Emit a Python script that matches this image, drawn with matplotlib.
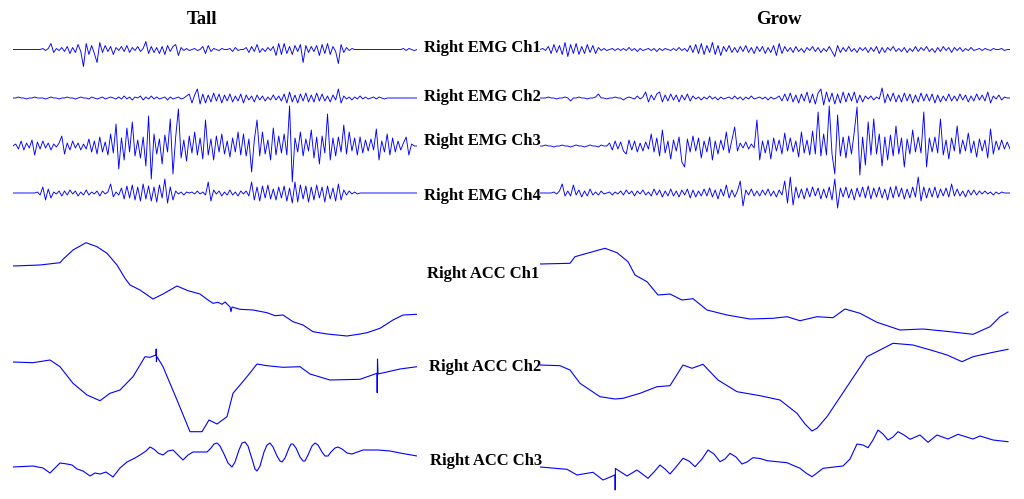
import numpy as np
import matplotlib
matplotlib.use("Agg")
import matplotlib.pyplot as plt

# EMG samples (amplitude, up = positive), Tall trial: 150 samples over the trace
tall_emg1 = [0, 0, 0, 0, 0, 0, 0, 0, 0, 0,
             0, 1, -1, 1, 6, -3, 1, -1, 2, -2,
             3, -4, 2, -3, 5, -2, -17, 6, -5, 4,
             -4, -13, 7, -3, 4, -2, 3, -5, 2, -1,
             3, -2, 4, -3, 2, -1, 3, -2, 1, 8,
             -4, 3, -3, 2, -4, 3, -5, 4, -2, 3,
             5, -6, 2, -1, 1, -1, 0, 1, -1, 0,
             3, -4, 4, -2, 1, 0, -1, 1, 0, 0,
             1, -2, 2, -1, 0, 0, 2, -3, 3, -2,
             5, -3, 1, -2, 2, -1, 3, -6, 6, -5,
             6, -4, 3, -5, 4, -2, 5, -13, 4, -3,
             3, -2, 4, -6, 5, -4, 6, -5, 3, -2,
             -14, 5, -3, 2, -1, 1, 0, 0, 0, 0,
             0, 0, 0, 0, 0, 0, 0, 0, 0, 0,
             0, 0, 0, 0, 1, -1, 1, 0, -1, 0]
tall_emg2 = [0, 0, 1, 0, 0, -1, 0, 0, 1, 0,
             0, 0, -1, 0, 1, 0, 0, -1, 0, 0,
             1, 0, 0, -1, 0, 1, 0, 0, -1, 1,
             0, -1, 0, 1, -1, 0, 1, 0, -1, 1,
             -1, 2, -1, 1, -2, 1, 0, 2, -2, 1,
             -1, 2, -1, 1, -1, 0, 1, -2, 1, -1,
             0, 1, -1, 0, 2, 4, -5, 3, 9, -6,
             4, -5, 3, -4, 5, -3, 4, -5, 3, -3,
             4, -4, 2, -3, 4, -5, 3, -2, 2, -4,
             3, -2, 2, -3, 1, -2, 3, -2, 2, -3,
             4, -5, 6, -4, 3, -5, 4, -3, 5, -4,
             3, -4, 5, -3, 4, -3, 2, -4, 3, -2,
             9, -5, 2, -1, 1, -2, 1, -1, 2, -1,
             1, -1, 0, 1, -1, 1, 0, -1, 0, 0,
             0, 0, 0, 0, 0, 0, 0, 0, 0, 0]
tall_emg3 = [0, 2, -3, 5, -4, 3, -2, 6, -9, 4,
             -3, 5, -2, 3, -4, 2, -1, 3, 10, -8,
             3, -4, 5, -2, 3, -4, 2, -3, 7, -6,
             5, -8, 9, -6, 4, -9, 12, -7, 22, -23,
             8, -14, 18, -6, 24, -10, 6, -12, 9, -20,
             30, -33, 12, -8, 7, -18, 11, -6, 27, -28,
             9, 37, -12, 6, -15, 10, -7, 14, -9, 8,
             -13, 26, -9, 7, -14, 10, -6, 12, -8, 5,
             -11, 8, -6, 14, -9, 12, -10, 7, -26, 6,
             26, -10, 14, -8, 6, -14, 18, -9, 10, -7,
             12, -9, 40, -36, 8, -6, 14, -10, 7, -5,
             16, -12, 9, -18, 10, -7, 32, -14, 8, -10,
             9, -6, 21, -8, 14, -5, 8, -9, 9, -7,
             6, -5, 7, -4, 17, -14, 5, -6, 12, -9,
             8, -6, 5, -4, 3, 9, -9, 2, 0, 0]
tall_emg4 = [0, 0, 0, 0, 0, 0, 0, 0, 0, 1,
             -2, 6, -7, 4, -5, 1, -1, 2, -3, 2,
             -2, 3, -1, 2, -3, 1, -2, 3, -2, 1,
             -1, 2, -3, 2, -1, 1, 9, -4, 1, -2,
             5, -6, 7, -5, 8, -7, 6, -8, 9, -6,
             7, -8, 6, -9, 8, -5, 14, -10, 6, -7,
             2, -1, 1, -2, 1, 0, 1, -1, 2, -1,
             1, -2, 11, -8, 3, -1, 2, -3, 1, -2,
             3, -2, 1, -3, 2, -1, 2, -3, 11, -7,
             6, -8, 7, -5, 8, -6, 4, -7, 6, -5,
             7, -8, 5, -10, 11, -9, 8, -6, 7, -9,
             6, -7, 8, -5, 6, -9, 7, -6, 5, -8,
             9, -7, 3, -2, 2, -1, 1, -1, 0, 0,
             0, 0, 0, 0, 0, 0, 0, 0, 0, 0,
             0, 0, 0, 0, 0, 0, 0, 0, 0, 0]

# EMG samples, Grow trial: 170 samples over the trace
grow_emg1 = [0, 1, -1, 3, -4, 5, -3, 4, -5, 7,
             -7, 5, -4, 6, -5, 3, -4, 5, -3, 4,
             -4, 2, -1, 1, -1, 0, 1, -1, 1, -1,
             1, -1, 2, -1, 1, -2, 1, -1, 0, 1,
             -1, 1, -2, 1, -1, 1, 0, -1, 1, -1,
             2, -1, 1, -2, 4, -3, 5, -4, 6, -5,
             4, -3, 7, -5, 4, -6, 3, -2, 4, -3,
             2, -3, 3, -2, 4, -3, 2, -4, 3, -2,
             3, -4, 2, -3, 4, -6, 6, -4, 3, -2,
             2, -3, 3, -2, 1, -3, 2, -1, 3, -2,
             2, -3, 1, -2, 3, -2, -7, 4, -3, 2,
             -2, 3, -2, 1, -3, 2, -1, 2, -3, 2,
             -2, 3, -4, 2, -3, 2, -1, 3, -2, 1,
             -2, 2, -3, 1, -2, 3, -2, 2, -1, 3,
             -2, 1, -3, 2, -2, 3, -1, 2, -3, 2,
             -1, 2, -2, 1, -1, 2, -1, 0, 1, -1,
             1, 0, -1, 1, 0, 0, 1, -1, 0, 0]
grow_emg2 = [0, 0, 0, 1, 0, 0, -1, 0, 0, 1,
             0, -3, 0, 0, 1, 0, 0, -1, 0, 0,
             1, 4, 0, 0, -1, 0, 0, 1, 0, 0,
             -2, 0, 1, 0, -1, 2, -1, 1, 6, -4,
             3, -2, 4, 6, -4, 3, -3, 4, -2, 3,
             -4, 3, -2, 4, -3, 2, -1, 1, -2, 1,
             -1, 2, -1, 1, -2, 1, -1, 0, 1, -1,
             2, -1, 1, -2, 1, -1, 2, -1, 0, 1,
             -1, 1, -2, 1, -1, 0, 2, -3, 4, -3,
             5, -4, 3, -5, 4, -3, 6, -5, 4, -6,
             5, 9, -7, 6, -4, 5, -6, 4, -5, 6,
             -4, 5, -3, 6, -5, 3, -4, 2, -1, 2,
             -2, 1, -1, 10, -5, 4, -3, 5, -4, 3,
             -4, 5, -3, 4, -5, 3, -4, 5, -3, 4,
             -3, 4, -5, 3, -4, 2, -3, 4, -3, 2,
             -3, 4, -2, 3, -4, 2, -3, 4, -2, 3,
             -3, 6, -5, 2, -1, 3, -2, 1, 0, 0]
grow_emg3 = [0, 0, 1, 0, 0, -1, 0, 0, 1, 0,
             0, -1, 0, 1, 0, 0, -1, 0, 1, 0,
             0, -1, 1, 0, 0, 3, -4, 5, -3, 4,
             -5, -8, 6, -4, 5, -6, 3, -5, 4, -3,
             12, -6, 8, -10, 16, -7, 5, -13, 6, -5,
             9, -16, -21, 7, -6, 10, -5, 8, -12, 5,
             -6, 9, -14, 5, -8, 6, -4, 14, -7, 6,
             19, -5, 3, -2, 4, -3, 2, -2, 26, -14,
             5, -7, 6, -13, 8, -5, 6, -8, 13, -5,
             8, -6, 5, -11, 14, -7, 6, -9, 15, -8,
             34, -10, 12, -9, 40, -8, -28, 31, -10, 9,
             -12, 10, -8, 14, 39, -29, 9, -19, 24, -9,
             27, -8, 12, -20, 9, -14, 11, -10, 20, -8,
             8, -21, 7, -8, 16, -6, 9, -7, 34, -21,
             8, -6, 9, -7, 27, -9, 6, -13, 8, -5,
             20, -8, 6, -5, 13, -7, 5, -11, 7, -5,
             6, -12, 17, -8, 5, -4, 6, -3, 4, -3]
grow_emg4 = [0, 0, 0, 0, 0, 1, -1, 2, 9, -3,
             2, -3, 8, -2, 3, -4, 2, -3, 4, -2,
             1, -2, 2, -1, 0, 1, -2, 1, -1, 2,
             -2, 3, -1, 2, -3, 2, -1, 3, -2, 1,
             -3, 4, -2, 3, -4, 2, -3, 4, -3, 2,
             -4, 3, -2, 4, -5, 3, -4, 2, -3, 4,
             -3, 5, -4, 3, -6, 4, -3, 8, -5, 3,
             -4, 2, 12, -13, 3, -2, 4, -3, 2, -3,
             3, -2, 4, -3, 2, -4, 3, -2, 12, -10,
             16, -12, 6, -5, 4, -6, 5, -4, 6, -3,
             5, -6, 4, -5, 6, -7, 14, -15, 5, -4,
             6, -5, 4, -7, 5, -4, 6, -5, 7, -6,
             5, -4, 6, -5, 4, -7, 6, -5, 7, -4,
             5, -6, 4, -5, 6, -4, 16, -8, 6, -5,
             5, -4, 6, -5, 4, -3, 5, -4, 9, -3,
             4, -3, 2, -4, 3, -2, 3, -2, 2, -1,
             2, -1, 1, -2, 1, -1, 1, 0, 0, 0]

# ACC samples: time (sample position) and value (up = positive)
tall_acc1_t = [0, 27, 47, 50, 60, 73, 84, 94, 104, 112, 117, 127, 140, 150, 164,
               175, 187, 195, 200, 205, 209, 212, 217, 218, 219, 227, 240, 254,
               262, 270, 280, 290, 300, 314, 334, 347, 354, 367, 380, 390, 404]
tall_acc1_v = [0, 1, 3.3, 6.7, 16, 23.3, 19.3, 12.7, 1, -12.3, -19, -24, -33, -28,
               -20, -24.7, -28, -34, -37.3, -36.3, -38.3, -36, -41, -45.7, -41,
               -43.3, -44, -46.7, -49.7, -49, -55.7, -59, -65.7, -68, -70, -68,
               -66.7, -62.3, -54, -49, -48.3]
tall_acc2_t = [0, 20, 37, 47, 60, 74, 87, 97, 107, 120, 132, 137, 143, 143.2,
               143.4, 144, 150, 164, 177, 189, 196, 204, 214, 220, 234, 244, 254,
               270, 287, 297, 317, 347, 364, 364.2, 364.5, 365, 387, 404]
tall_acc2_v = [0, -0.7, 2, -4.7, -21.3, -33, -38.7, -31.3, -28, -14.7, 5.3, 4.7,
               7, 13, 0.3, 5.3, -4.7, -38, -69.7, -69.7, -58, -62, -54.7, -31.3,
               -14.7, -2, -3.7, -5.3, -4.7, -12, -18, -17.3, -11.3, -30.7, 3, -12,
               -7, -4.7]
tall_acc3_t = [0, 20, 30, 37, 42, 47, 54, 59, 64, 70, 77, 82, 87, 93, 100, 107,
               114, 122, 127, 133, 137, 139, 142, 145, 150, 155, 160, 165, 170,
               175, 180, 187, 194, 198, 201, 204, 207, 211, 215, 219, 222, 226,
               229, 232, 235, 239, 242, 244, 247, 251, 254, 257, 260, 264, 267,
               269, 272, 276, 278, 280, 283, 287, 290, 292, 295, 299, 302, 305,
               309, 312, 315, 318, 322, 325, 329, 334, 339, 350, 365, 377, 387, 404]
tall_acc3_v = [0, 1, -1, -6, -1, 4, 3, 2, -2, -4, -9, -6, -7, -5, -10, -1, 5, 9,
               12, 16, 20, 19, 17, 14, 12, 16, 17, 12, 7, 12, 15, 15, 15, 19, 23,
               24, 21, 13, 4, 0, 5, 17, 24, 25, 21, 8, -2, -4, 1, 15, 22, 24, 20,
               11, 6, 5, 9, 19, 23, 23, 19, 10, 6, 6, 12, 21, 24, 22, 15, 11, 11,
               15, 19, 20, 18, 14, 13, 17, 17, 16, 14, 11]

grow_acc1_t = [0, 30, 35, 47, 65, 77, 88, 95, 107, 118, 130, 142, 153, 167, 187,
               210, 233, 247, 260, 277, 293, 305, 320, 337, 360, 383, 410, 433,
               450, 460, 468]
grow_acc1_v = [0, 0.7, 7.3, 10.7, 15.7, 11.3, 2.3, -11, -17.7, -31, -30, -36,
               -34.7, -46, -51, -55, -54.3, -52.7, -56.7, -52.7, -53.7, -45,
               -49.3, -58.3, -66, -65, -67.7, -70.3, -62.7, -52.7, -48]
grow_acc2_t = [0, 20, 30, 40, 60, 75, 83, 100, 117, 130, 143, 152, 163, 178, 197,
               220, 240, 257, 265, 272, 277, 287, 307, 327, 353, 373, 393, 407,
               422, 433, 453, 468]
grow_acc2_v = [0, -0.7, -5, -18.3, -31.7, -34, -33.3, -28.3, -21.7, -20.7, 0,
               -3.3, 0.7, -15, -26.7, -30.7, -35, -48.3, -59, -66, -63.3, -51.7,
               -21.7, 8.3, 21.7, 20, 14.3, 10, 3.3, 8.3, 12.7, 15.7]
grow_acc3_t = [0, 27, 37, 53, 63, 75, 75.2, 75.4, 87, 97, 108, 114, 120, 125,
               130, 136, 143, 149, 155, 162, 168, 174, 180, 185, 190, 196, 202,
               207, 213, 220, 227, 247, 260, 266, 272, 277, 283, 303, 310, 317,
               323, 328, 333, 338, 343, 348, 353, 358, 364, 370, 380, 388, 397,
               408, 418, 433, 440, 453, 468]
grow_acc3_v = [0, -2.3, -8, -5.3, -13, -8, -23, -1.5, -9, -3, -11.3, -5, 2, -2,
               -7, 0, 8.7, 6, 0.3, 8, 17, 13, 5.3, 8, 13.7, 10, 3, 5, 9.3, 8.5,
               6.3, 4.3, -1.3, -6, -9.7, -6, -1.3, 1, 8, 23, 22, 19.3, 27, 37, 33,
               27, 30, 35.3, 32, 27.7, 32, 24.7, 32, 28, 32.7, 28, 31, 27, 25.3]

emg_labels = ["Right EMG Ch1", "Right EMG Ch2", "Right EMG Ch3", "Right EMG Ch4"]
acc_labels = ["Right ACC Ch1", "Right ACC Ch2", "Right ACC Ch3"]

LINE = "#0000ff"
FONT = "Liberation Serif"


def draw_column(ax, span, emg, acc, emg_base, acc_base):
    # every trace sits on its own baseline, screen-like units going down
    for values, base in zip(emg, emg_base):
        t = np.linspace(0, span, len(values))
        ax.plot(t, base - np.array(values), color=LINE, lw=0.65)
    for (t, v), base in zip(acc, acc_base):
        ax.plot(t, base - np.array(v), color=LINE, lw=0.8)
    ax.set_xlim(0, span)
    ax.set_ylim(499, 0)
    ax.axis("off")


fig = plt.figure(figsize=(10.24, 4.99), dpi=100)

ax_tall = fig.add_axes([13 / 1024, 0, 404 / 1024, 1])
draw_column(ax_tall, 404,
            [tall_emg1, tall_emg2, tall_emg3, tall_emg4],
            [(tall_acc1_t, tall_acc1_v), (tall_acc2_t, tall_acc2_v), (tall_acc3_t, tall_acc3_v)],
            [49.5, 98, 146, 193], [266, 362, 467])

ax_grow = fig.add_axes([540 / 1024, 0, 470 / 1024, 1])
draw_column(ax_grow, 470,
            [grow_emg1, grow_emg2, grow_emg3, grow_emg4],
            [(grow_acc1_t, grow_acc1_v), (grow_acc2_t, grow_acc2_v), (grow_acc3_t, grow_acc3_v)],
            [49.5, 98, 146, 193], [264, 365, 467])

# titles and channel names
fig.text(202 / 1024, 1 - 20 / 499, "Tall", ha="center", va="center",
         family=FONT, weight="bold", fontsize=13.5)
fig.text(779 / 1024, 1 - 20 / 499, "Grow", ha="center", va="center",
         family=FONT, weight="bold", fontsize=13.5)

for label, y in zip(emg_labels, [48, 97, 141, 196]):
    fig.text(482 / 1024, 1 - y / 499, label, ha="center", va="center",
             family=FONT, weight="bold", fontsize=12)
for label, (x, y) in zip(acc_labels, [(483, 274), (485, 367), (486, 461)]):
    fig.text(x / 1024, 1 - y / 499, label, ha="center", va="center",
             family=FONT, weight="bold", fontsize=12)

fig.savefig("out.png", dpi=100, facecolor="white")
